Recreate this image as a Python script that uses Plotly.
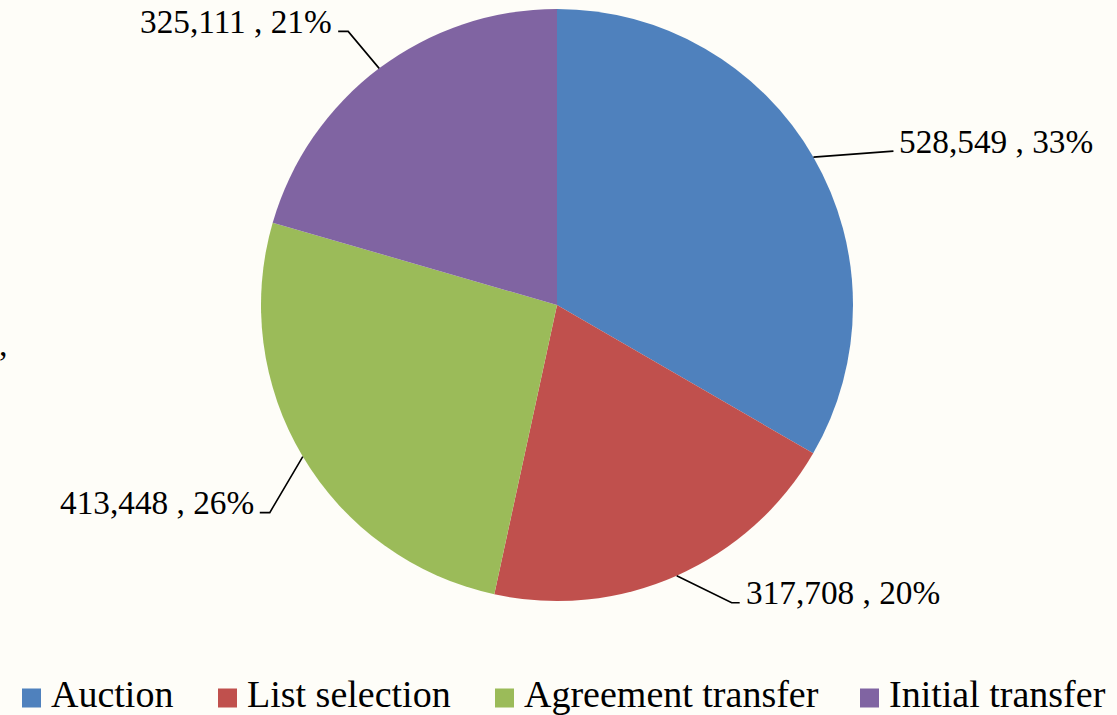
import math
import plotly.graph_objects as go

# ---- data ----
categories = ["Auction", "List selection", "Agreement transfer", "Initial transfer"]
values = [528549, 317708, 413448, 325111]
colors = ["#4F81BD", "#C0504D", "#9BBB59", "#8064A2"]

# ---- layout constants (pixels) ----
W, H = 1117, 715
CX, CY, R = 557, 305, 296
BG = "#FEFDF8"
FONT = "Liberation Serif, Times New Roman, Times, serif"
# elbow offset from slice edge point, and horizontal tail length (style)
elbow_off = [(80, -6), (55, 27), (-33, 56), (-31, -37)]
tail_len = [0, 8, -10, -10]
# custom legend layout (left x of each swatch), swatch size and row position
legend_x = [22, 218, 495, 860]
SW = 19
LEG_Y = 698


def px(x):
    return x / W


def py(y):
    return 1 - y / H


fig = go.Figure()
fig.add_trace(go.Pie(
    labels=categories,
    values=values,
    marker=dict(colors=colors, line=dict(width=0)),
    sort=False,
    direction="clockwise",
    rotation=0,
    textinfo="none",
    hoverinfo="label+value+percent",
    showlegend=False,
    domain=dict(x=[px(CX - R), px(CX + R)], y=[py(CY + R), py(CY - R)]),
))

total = sum(values)
cum = 0
shapes = []
annotations = []
for i, v in enumerate(values):
    mid = (cum + v / 2) / total * 2 * math.pi
    cum += v
    ex = CX + R * math.sin(mid)
    ey = CY - R * math.cos(mid)
    bx = ex + elbow_off[i][0]
    by = ey + elbow_off[i][1]
    tx = bx + tail_len[i]
    ty = by
    shapes.append(dict(
        type="path", xref="paper", yref="paper",
        path=f"M {px(ex)},{py(ey)} L {px(bx)},{py(by)} L {px(tx)},{py(ty)}",
        line=dict(color="black", width=1.6),
    ))
    right = math.sin(mid) >= 0
    pct = round(100 * v / total)
    annotations.append(dict(
        x=px(tx + (4 if right else -4)), y=py(ty - 10),
        xref="paper", yref="paper",
        text=f"{v:,} , {pct}%",
        showarrow=False,
        xanchor="left" if right else "right",
        yanchor="middle",
        font=dict(family=FONT, size=33.3, color="black"),
    ))

# custom legend: colored squares + text built from categories/colors
for name, col, lx in zip(categories, colors, legend_x):
    shapes.append(dict(
        type="rect", xref="paper", yref="paper",
        x0=px(lx), x1=px(lx + SW), y0=py(LEG_Y + SW / 2), y1=py(LEG_Y - SW / 2),
        fillcolor=col, line=dict(width=0),
    ))
    annotations.append(dict(
        x=px(lx + SW + 8), y=py(LEG_Y - 4), xref="paper", yref="paper",
        text=name, showarrow=False, xanchor="left", yanchor="middle",
        font=dict(family=FONT, size=38, color="black"),
    ))

# stray comma at the left edge of the reference
annotations.append(dict(
    x=px(-3), y=py(344), xref="paper", yref="paper", text=",",
    showarrow=False, xanchor="left", yanchor="middle",
    font=dict(family=FONT, size=34, color="black"),
))

fig.update_layout(
    width=W, height=H,
    margin=dict(l=0, r=0, t=0, b=0),
    paper_bgcolor=BG, plot_bgcolor=BG,
    shapes=shapes,
    annotations=annotations,
    showlegend=False,
)

fig.write_html(
    "out.html",
    config={"displayModeBar": False},
    post_script="document.body.style.margin='0';",
)
